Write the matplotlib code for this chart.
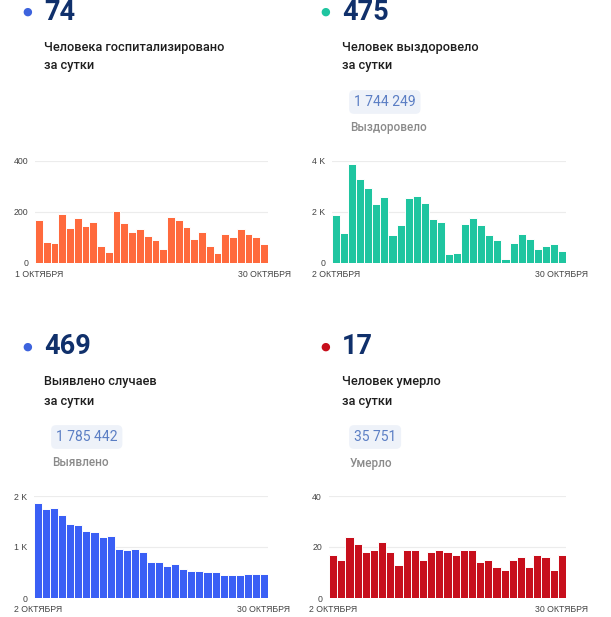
import matplotlib
matplotlib.use("Agg")
import matplotlib.pyplot as plt
import numpy as np

plt.rcParams['font.family'] = ['Roboto', 'DejaVu Sans']

W, H = 611, 617

# data
hosp = [166, 82, 79, 192, 137, 174, 142, 158, 64, 42, 203, 154, 121, 133, 103,
        88, 53, 180, 166, 139, 92, 122, 66, 39, 114, 101, 132, 113, 99, 74]
recovered = [1882, 1184, 3868, 3263, 2934, 2303, 2566, 1079, 1487, 2526, 2632,
             2342, 1697, 1605, 342, 382, 1500, 1750, 1461, 1079, 882, 158, 789,
             1118, 921, 539, 671, 750, 475]
cases = [1856, 1739, 1758, 1621, 1458, 1431, 1314, 1294, 1203, 1222, 967, 935,
         954, 895, 712, 699, 634, 673, 562, 536, 523, 516, 503, 451, 458, 458,
         464, 464, 469]
deaths = [17, 15, 24, 21, 18, 19, 22, 18, 13, 19, 19, 15, 18, 19, 18, 17, 19,
          19, 14, 15, 12, 11, 15, 16, 12, 17, 16, 11, 17]

panels = [
    dict(vals=hosp, big="74", lines=["Человека госпитализировано", "за сутки"],
         total=None, total_lbl=None, color="#ff6a3d", dot="#3d63dd",
         ymax=400, yticks=[0, 200, 400], ylbl=["0", "200", "400"],
         first="1 ОКТЯБРЯ", last="30 ОКТЯБРЯ",
         hx=44, hy=12, ax_px=(35, 160.7, 268, 262.7)),
    dict(vals=recovered, big="475", lines=["Человек выздоровело", "за сутки"],
         total="1 744 249", total_lbl="Выздоровело", color="#1fc5a0", dot="#1fc5a0",
         ymax=4000, yticks=[0, 2000, 4000], ylbl=["0", "2 K", "4 K"],
         first="2 ОКТЯБРЯ", last="30 ОКТЯБРЯ",
         hx=342, hy=12, ax_px=(332, 160.7, 566, 262.7)),
    dict(vals=cases, big="469", lines=["Выявлено случаев", "за сутки"],
         total="1 785 442", total_lbl="Выявлено", color="#3a5ff5", dot="#3d63dd",
         ymax=2000, yticks=[0, 1000, 2000], ylbl=["0", "1 K", "2 K"],
         first="2 ОКТЯБРЯ", last="30 ОКТЯБРЯ",
         hx=44, hy=347, ax_px=(34, 496, 268, 598)),
    dict(vals=deaths, big="17", lines=["Человек умерло", "за сутки"],
         total="35 751", total_lbl="Умерло", color="#c70f1c", dot="#c70f1c",
         ymax=40, yticks=[0, 20, 40], ylbl=["0", "20", "40"],
         first="2 ОКТЯБРЯ", last="30 ОКТЯБРЯ",
         hx=342, hy=347, ax_px=(329, 496, 566, 598)),
]

fig = plt.figure(figsize=(W / 100, H / 100), dpi=100)
fig.patch.set_facecolor("white")


def fx(x):
    return x / W


def fy(y):
    return 1 - y / H


tick_font = ["Liberation Sans", "DejaVu Sans"]

for p in panels:
    hx, hy = p["hx"], p["hy"]
    # header
    fig.text(fx(hx - 17), fy(hy), "●", color=p["dot"], fontsize=8,
             ha="center", va="center", family="DejaVu Sans")
    fig.text(fx(hx), fy(hy), p["big"], color="#10306b", fontsize=19.5,
             fontweight="bold", ha="left", va="center")
    fig.text(fx(hx), fy(hy + 35), p["lines"][0], color="#1e1e1e", fontsize=9.2,
             fontweight="medium", ha="left", va="center")
    fig.text(fx(hx), fy(hy + 54), p["lines"][1], color="#1e1e1e", fontsize=9.2,
             fontweight="medium", ha="left", va="center")
    if p["total"]:
        fig.text(fx(hx + 12), fy(hy + 90), p["total"], color="#5b7ec4", fontsize=10,
                 ha="left", va="center",
                 bbox=dict(boxstyle="round,pad=0.35", fc="#eef2f9", ec="none"))
        fig.text(fx(hx + 8), fy(hy + 116), p["total_lbl"], color="#8a8a8a",
                 fontsize=8.5, fontweight="medium", ha="left", va="center")

    # chart
    l, t, r, b = p["ax_px"]
    ax = fig.add_axes([fx(l), fy(b), (r - l) / W, (b - t) / H])
    n = len(p["vals"])
    x = np.arange(n)
    ax.bar(x, p["vals"], width=1.0, color=p["color"], edgecolor="white",
           linewidth=0.7, zorder=2)
    ax.set_xlim(-0.5, n - 0.5)
    ax.set_ylim(0, p["ymax"])
    ax.set_yticks(p["yticks"])
    ax.set_yticklabels(p["ylbl"], family=tick_font)
    ax.set_xticks([0, n - 1])
    ax.set_xticklabels([p["first"], p["last"]], family=tick_font)
    ax.grid(axis="y", color="#ececec", linewidth=0.8, zorder=0)
    for s in ax.spines.values():
        s.set_visible(False)
    ax.tick_params(axis="both", length=0, labelsize=6.3, colors="#444444")
    ax.tick_params(axis="y", pad=5)
    ax.tick_params(axis="x", pad=5)

fig.savefig("out.png", dpi=100)
